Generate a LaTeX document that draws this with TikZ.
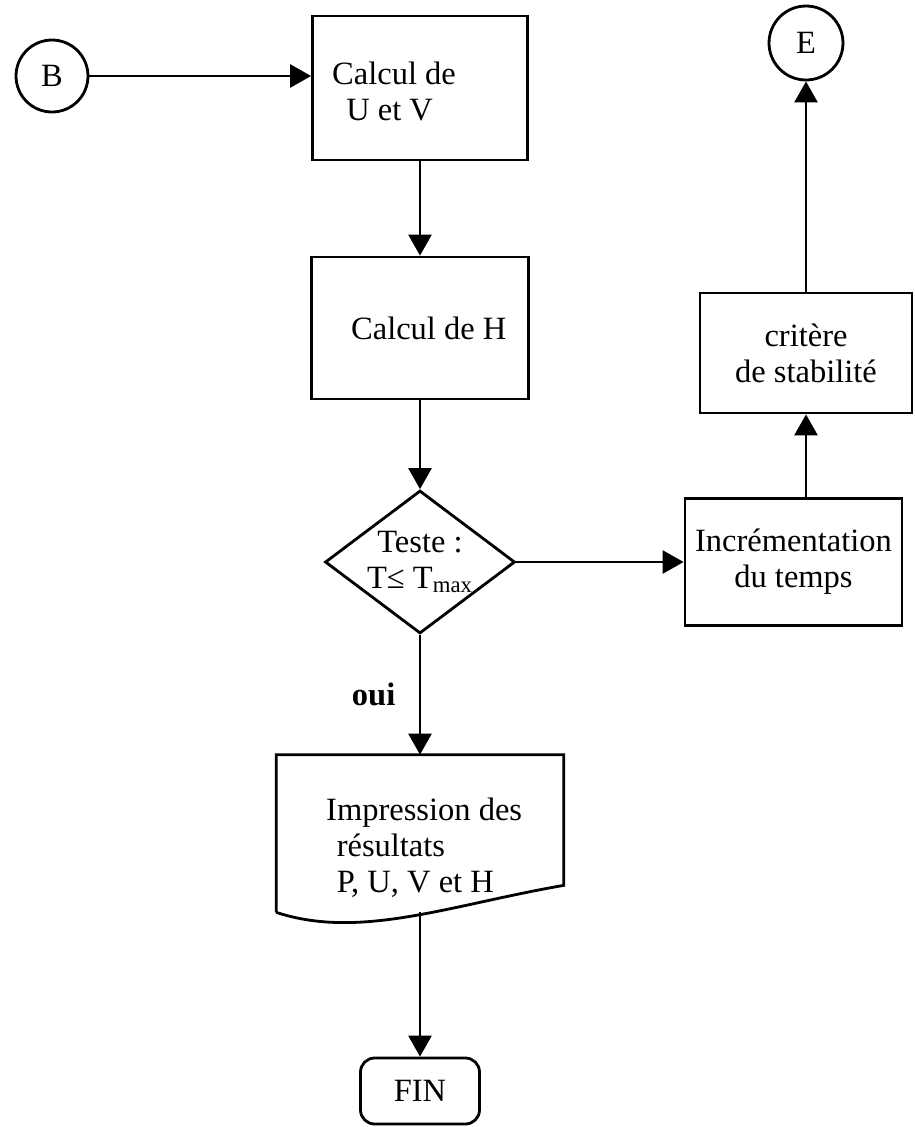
\documentclass[tikz,border=0pt]{standalone}
\usepackage{fontspec}
\setmainfont{Liberation Serif}
\usetikzlibrary{shapes.geometric,arrows.meta}

\begin{document}
\begin{tikzpicture}[x=0.02cm, y=-0.02cm,
		font=\fontsize{18.5}{20.5}\selectfont,
		box/.style={draw, line width=1.6pt, inner sep=2pt},
		conn/.style={circle, draw, line width=1.6pt, minimum size=1.44cm, inner sep=0pt},
		flow/.style={line width=1.5pt, -{Triangle[length=4.2mm, width=4.6mm]}}]
	\useasboundingbox (0,0) rectangle (915,1127);
	
	% Main column
	\node[conn] (B) at (52,76) {B};
	\node[box, minimum width=4.3cm, minimum height=2.88cm] (calcUV) at (420,88) {};
	\node[anchor=west, align=left] (calcUVtxt) at (326,91) {Calcul de\\\hspace*{8pt}U et V};
	\node[box, minimum width=4.34cm, minimum height=2.84cm] (calcH) at (420,328) {\hspace*{10pt}Calcul de H};
	\node[box, diamond, shape aspect=1.33, minimum width=3.8cm, minimum height=2.86cm, inner sep=0pt, align=center] (test) at (420,562) {Teste :\\T≤ T\textsubscript{max}};
	
	% Document shape (wavy bottom)
	\node[minimum width=5.74cm, minimum height=3.14cm] (print) at (420,833.5) {};
	\draw[line width=1.6pt] (print.south west) -- (print.north west) -- (print.north east)
		-- ([yshift=0.54cm]print.south east) .. controls (450,905) and (360,940) .. (print.south west);
	\node[anchor=west, align=left] (printtxt) at (320,848) {Impression des\\\hspace*{6pt}résultats\\\hspace*{6pt}P, U, V et H};
	\node[box, rounded corners=8pt, minimum width=2.38cm, minimum height=1.32cm] (fin) at (420,1091) {FIN};
	
	% Right column
	\node[box, minimum width=4.34cm, minimum height=2.54cm, align=center] (incr) at (793.5,562) {Incrémentation\\du temps};
	\node[box, minimum width=4.24cm, minimum height=2.4cm, align=center] (crit) at (806,353) {critère\\de stabilité};
	\node[conn, minimum size=1.48cm] (E) at (806,43) {E};
	
	% Connectors
	\draw[flow] (B) -- (B -| calcUV.west);
	\draw[flow] (calcUV) -- (calcH);
	\draw[flow] (calcH) -- (test);
	\draw[flow] (test) -- node[midway, left=0.35cm, font=\fontsize{18.5}{20.5}\selectfont\bfseries] (oui) {oui} (print);
	\draw[flow] (print.south) -- (fin);
	\draw[flow] (test) -- (incr);
	\draw[flow] (incr.north -| crit) -- (crit);
	\draw[flow] (crit) -- (E);
\end{tikzpicture}
\end{document}
